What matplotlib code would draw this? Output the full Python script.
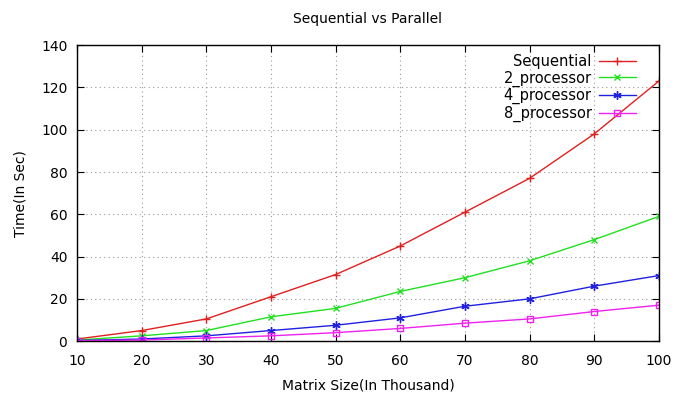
import matplotlib.pyplot as plt

matrix_size = [10, 20, 30, 40, 50, 60, 70, 80, 90, 100]
sequential = [1, 5, 10.5, 21, 31.5, 45, 61, 77, 98, 123]
proc_2 = [0.5, 2.5, 5, 11.5, 15.5, 23.5, 30, 38, 48, 59]
proc_4 = [0.3, 1, 2.5, 5, 7.5, 11, 16.5, 20, 26, 31]
proc_8 = [0.2, 0.5, 1.5, 2.5, 4, 6, 8.5, 10.5, 14, 17]

fig = plt.figure(figsize=(6.82, 3.93), dpi=100)
ax = fig.add_axes([0.113, 0.132, 0.853, 0.753])

ax.plot(matrix_size, sequential, color='#e02020', marker='+', ms=6, lw=1, label='Sequential')
ax.plot(matrix_size, proc_2, color='#20e020', marker='x', ms=5, lw=1, label='2_processor')
ax.plot(matrix_size, proc_4, color='#2020e0', marker=(6, 2, 0), ms=6, lw=1, label='4_processor')
ax.plot(matrix_size, proc_8, color='#f020f0', marker='s', mfc='none', ms=5, lw=1, label='8_processor')

ax.set_xlim(10, 100)
ax.set_ylim(0, 140)
ax.set_xticks(range(10, 101, 10))
ax.set_yticks(range(0, 141, 20))
ax.grid(True, linestyle=(0, (1, 3)), color='#999999', lw=0.8)
ax.tick_params(direction='in', top=True, right=True, labelsize=10, length=5)
ax.tick_params(axis='x', pad=9)
ax.tick_params(axis='y', pad=7)
for s in ax.spines.values():
    s.set_linewidth(1)

ax.set_xlabel('Matrix Size(In Thousand)', fontsize=10, labelpad=8)
ax.set_ylabel('Time(In Sec)', fontsize=10, labelpad=10)
ax.set_title('Sequential vs Parallel', fontsize=10, pad=16)

ax.legend(loc='upper right', markerfirst=False, frameon=False, fontsize=10.5,
          handlelength=2.5, labelspacing=0.1, borderaxespad=0.2, handletextpad=0.5,
          bbox_to_anchor=(0.975, 1.0))

fig.savefig('out.png', dpi=100)
